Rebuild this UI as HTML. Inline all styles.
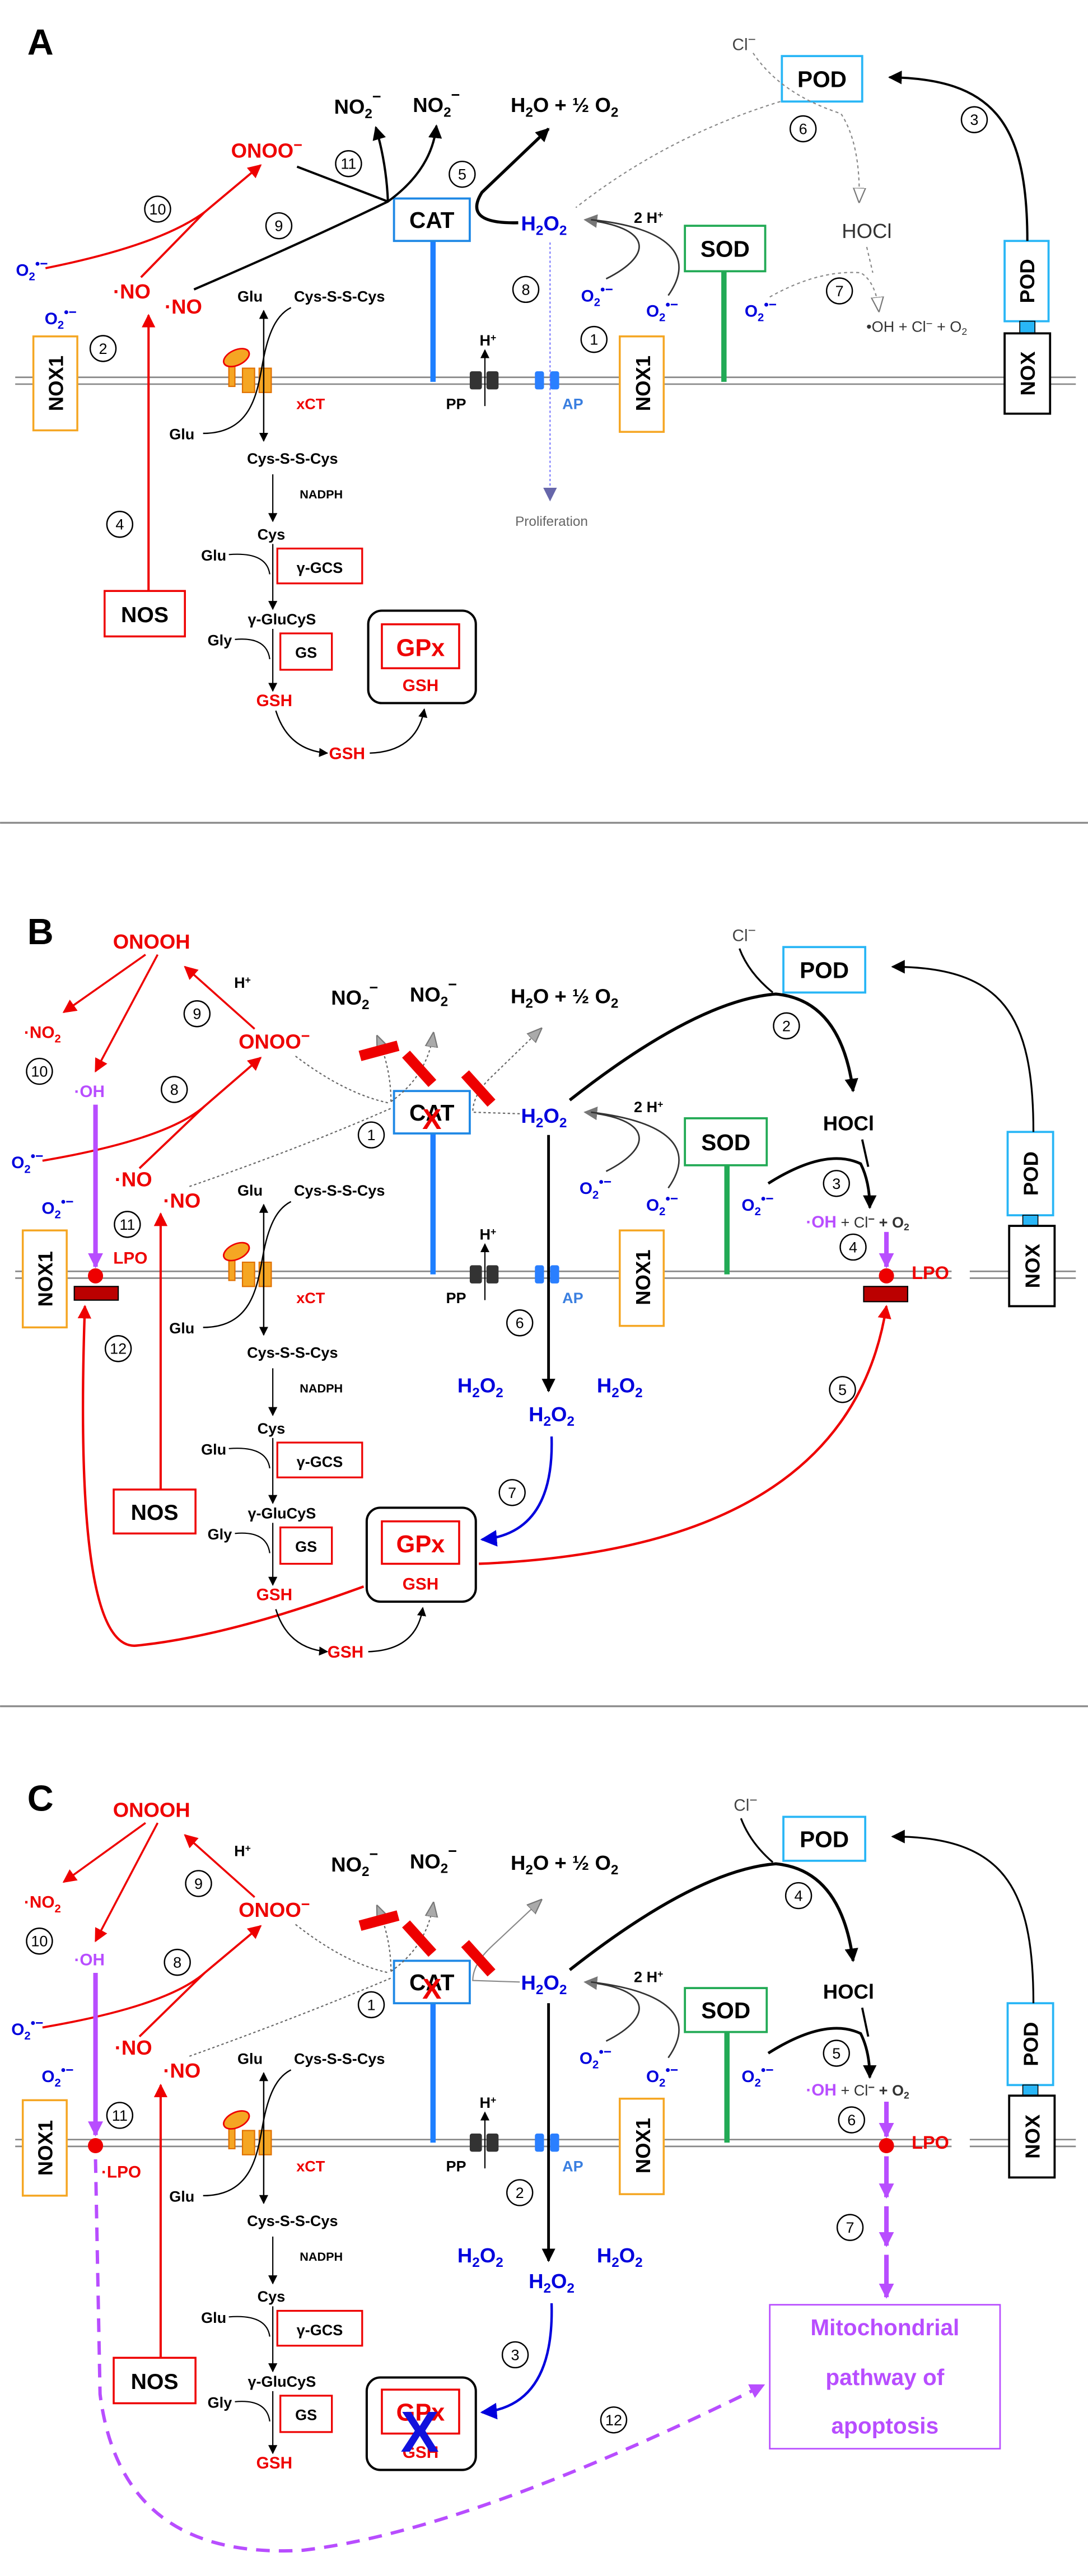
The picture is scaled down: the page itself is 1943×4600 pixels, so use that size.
<!DOCTYPE html>
<html><head><meta charset="utf-8"><style>
html,body{margin:0;padding:0;background:#fff}
svg{display:block}
text{font-family:"Liberation Sans",Arial,sans-serif;font-weight:bold}
.n{font-weight:normal}
</style></head><body>
<svg width="1943" height="4600" viewBox="0 0 718 1700" xmlns="http://www.w3.org/2000/svg">
<defs>
<marker id="ak" viewBox="0 0 10 10" refX="9" refY="5" markerWidth="9" markerHeight="9" markerUnits="userSpaceOnUse" orient="auto"><path d="M0,0 L10,5 L0,10 z" fill="#000"/></marker>
<marker id="aks" viewBox="0 0 10 10" refX="9" refY="5" markerWidth="6" markerHeight="6" markerUnits="userSpaceOnUse" orient="auto"><path d="M0,0 L10,5 L0,10 z" fill="#000"/></marker>
<marker id="aks2" viewBox="0 0 10 10" refX="1" refY="5" markerWidth="6" markerHeight="6" markerUnits="userSpaceOnUse" orient="auto"><path d="M10,0 L0,5 L10,10 z" fill="#000"/></marker>
<marker id="ar" viewBox="0 0 10 10" refX="9" refY="5" markerWidth="9" markerHeight="9" markerUnits="userSpaceOnUse" orient="auto"><path d="M0,0 L10,5 L0,10 z" fill="#e00"/></marker>
<marker id="ab" viewBox="0 0 10 10" refX="9" refY="5" markerWidth="11" markerHeight="11" markerUnits="userSpaceOnUse" orient="auto"><path d="M0,0 L10,5 L0,10 z" fill="#00d"/></marker>
<marker id="ap" viewBox="0 0 10 10" refX="9" refY="5" markerWidth="10" markerHeight="10" markerUnits="userSpaceOnUse" orient="auto"><path d="M0,0 L10,5 L0,10 z" fill="#b84dff"/></marker>
<marker id="ag" viewBox="0 0 10 10" refX="9" refY="5" markerWidth="10" markerHeight="10" markerUnits="userSpaceOnUse" orient="auto"><path d="M0,1 L10,5 L0,9 z" fill="#aaa" stroke="#777" stroke-width="0.8"/></marker>
<marker id="agd" viewBox="0 0 10 10" refX="9" refY="5" markerWidth="9" markerHeight="9" markerUnits="userSpaceOnUse" orient="auto"><path d="M0,0 L10,5 L0,10 z" fill="#777"/></marker>
<marker id="ago" viewBox="0 0 10 10" refX="9" refY="5" markerWidth="10" markerHeight="10" markerUnits="userSpaceOnUse" orient="auto"><path d="M0,1 L10,5 L0,9 z" fill="#fff" stroke="#777" stroke-width="0.8"/></marker>
<marker id="abl" viewBox="0 0 10 10" refX="9" refY="5" markerWidth="9" markerHeight="9" markerUnits="userSpaceOnUse" orient="auto"><path d="M0,0 L10,5 L0,10 z" fill="#66a"/></marker>

<g id="mem">
 <line x1="10" y1="-2" x2="710" y2="-2" stroke="#888" stroke-width="1"/>
 <line x1="10" y1="2.5" x2="710" y2="2.5" stroke="#888" stroke-width="1"/>
 <rect x="310" y="-6" width="8" height="12" rx="1.5" fill="#333"/>
 <rect x="321" y="-6" width="8" height="12" rx="1.5" fill="#333"/>
 <line x1="320" y1="17" x2="320" y2="-20" stroke="#000" stroke-width="0.8" marker-end="url(#aks)"/>
 <text x="322" y="-23" font-size="10" text-anchor="middle">H<tspan font-size="6.5" dy="-3">+</tspan></text>
 <text x="301" y="19" font-size="10" text-anchor="middle">PP</text>
 <rect x="353" y="-6" width="6" height="12" rx="1.5" fill="#2a7fff"/>
 <rect x="363" y="-6" width="6" height="12" rx="1.5" fill="#2a7fff"/>
 <text x="378" y="19" font-size="10" text-anchor="middle" fill="#3a7fe0">AP</text>
 <rect x="160" y="-8" width="8" height="16" fill="#f5a623" stroke="#e07000" stroke-width="0.8"/>
 <rect x="171" y="-8" width="8" height="16" fill="#f5a623" stroke="#e07000" stroke-width="0.8"/>
 <rect x="151" y="-10" width="4" height="14" fill="#f5a623" stroke="#e07000" stroke-width="0.8"/>
 <ellipse cx="156" cy="-15" rx="9" ry="5" transform="rotate(-25 156 -15)" fill="#f5a623" stroke="#e00" stroke-width="1"/>
 <text x="205" y="19" font-size="10" text-anchor="middle" fill="#e00">xCT</text>
 <rect x="409" y="-29" width="29" height="63" fill="#fff" stroke="#f5a623" stroke-width="1.3"/>
 <text transform="translate(424,2) rotate(-90)" font-size="13.5" text-anchor="middle" dy="5">NOX1</text>
</g>

<g id="chain">
 <text x="165" y="-52" font-size="10" text-anchor="middle">Glu</text>
 <text x="224" y="-52" font-size="10" text-anchor="middle">Cys-S-S-Cys</text>
 <line x1="174" y1="40" x2="174" y2="-46" stroke="#000" stroke-width="0.9" marker-end="url(#aks)" marker-start="url(#aks2)"/>
 <path d="M134,35 C168,35 170,5 174,-15 S184,-44 192,-48" fill="none" stroke="#000" stroke-width="0.9"/>
 <text x="120" y="39" font-size="10" text-anchor="middle">Glu</text>
 <text x="193" y="55" font-size="10" text-anchor="middle">Cys-S-S-Cys</text>
 <text x="212" y="78" font-size="8" text-anchor="middle">NADPH</text>
 <line x1="180" y1="62" x2="180" y2="93" stroke="#000" stroke-width="0.8" marker-end="url(#aks)"/>
 <text x="179" y="105" font-size="10" text-anchor="middle">Cys</text>
 <text x="141" y="119" font-size="10" text-anchor="middle">Glu</text>
 <path d="M151,115 Q176,113 178,128" fill="none" stroke="#000" stroke-width="0.8"/>
 <line x1="180" y1="108" x2="180" y2="151" stroke="#000" stroke-width="0.8" marker-end="url(#aks)"/>
 <rect x="183" y="111" width="56" height="23" fill="#fff" stroke="#e00" stroke-width="1.2"/>
 <text x="211" y="127" font-size="10" text-anchor="middle">γ-GCS</text>
 <text x="186" y="161" font-size="10" text-anchor="middle">γ-GluCyS</text>
 <text x="145" y="175" font-size="10" text-anchor="middle">Gly</text>
 <path d="M155,171 Q176,169 178,184" fill="none" stroke="#000" stroke-width="0.8"/>
 <line x1="180" y1="164" x2="180" y2="205" stroke="#000" stroke-width="0.8" marker-end="url(#aks)"/>
 <rect x="185" y="167" width="34" height="24" fill="#fff" stroke="#e00" stroke-width="1.2"/>
 <text x="202" y="183" font-size="10" text-anchor="middle">GS</text>
 <text x="181" y="215" font-size="11" text-anchor="middle" fill="#e00">GSH</text>
</g>
</defs>

<!-- ================= PANEL A ================= -->
<text x="18" y="36" font-size="24">A</text>
<use href="#mem" transform="translate(0,251)"/>
<use href="#chain" transform="translate(0,251)"/>
<rect x="22" y="222" width="29" height="62" fill="#fff" stroke="#f5a623" stroke-width="1.3"/>
<text transform="translate(36.5,253) rotate(-90)" font-size="13.5" text-anchor="middle" dy="5">NOX1</text>
<rect x="284" y="159" width="3.5" height="93" fill="#1e7fff"/>
<rect x="260" y="131" width="50" height="28" fill="#fff" stroke="#1e88e5" stroke-width="1.4"/>
<text x="285" y="150.5" font-size="15" text-anchor="middle">CAT</text>
<rect x="476" y="179" width="3.5" height="73" fill="#22aa55"/>
<rect x="452" y="149" width="53" height="30" fill="#fff" stroke="#22aa55" stroke-width="1.4"/>
<text x="478.5" y="169.5" font-size="15" text-anchor="middle">SOD</text>
<rect x="516" y="37" width="53" height="30" fill="#fff" stroke="#29b6f6" stroke-width="1.4"/>
<text x="542.5" y="57.5" font-size="15" text-anchor="middle">POD</text>
<rect x="663" y="159" width="29" height="53" fill="#fff" stroke="#29b6f6" stroke-width="1.4"/>
<text transform="translate(677.5,185.5) rotate(-90)" font-size="13.5" text-anchor="middle" dy="5">POD</text>
<rect x="673" y="212" width="10" height="8" fill="#29b6f6" stroke="#000" stroke-width="0.6"/>
<rect x="663" y="220" width="30" height="53" fill="#fff" stroke="#000" stroke-width="1.4"/>
<text transform="translate(678,246.5) rotate(-90)" font-size="13.5" text-anchor="middle" dy="5">NOX</text>
<path d="M678,159 C678,80 655,52 587,51" fill="none" stroke="#000" stroke-width="1.5" marker-end="url(#ak)"/>
<text x="236" y="75" font-size="13.5" text-anchor="middle">NO<tspan font-size="9" dy="3">2</tspan><tspan font-size="10" dy="-11">−</tspan></text>
<text x="288" y="74" font-size="13.5" text-anchor="middle">NO<tspan font-size="9" dy="3">2</tspan><tspan font-size="10" dy="-11">−</tspan></text>
<text x="337" y="74" font-size="13.5">H<tspan font-size="9" dy="3">2</tspan><tspan dy="-3">O + ½  O</tspan><tspan font-size="9" dy="3">2</tspan></text>
<text x="176" y="104" font-size="13.5" text-anchor="middle" fill="#e00">ONOO<tspan font-size="10" dy="-5">−</tspan></text>
<text x="359" y="152" font-size="13.5" text-anchor="middle" fill="#00d">H<tspan font-size="9" dy="3">2</tspan><tspan dy="-3">O</tspan><tspan font-size="9" dy="3">2</tspan></text>
<text x="428" y="147" font-size="10" text-anchor="middle">2 H<tspan font-size="6.5" dy="-3">+</tspan></text>
<text x="491" y="33" font-size="11" class="n" text-anchor="middle" fill="#444">Cl<tspan font-size="9" dy="-4">−</tspan></text>
<text x="572" y="157" font-size="13.5" class="n" text-anchor="middle" fill="#333">HOCl</text>
<text x="605" y="219" font-size="10" class="n" text-anchor="middle" fill="#333">•OH + Cl<tspan font-size="7.5" dy="-3">−</tspan><tspan dy="3"> + O</tspan><tspan font-size="6.5" dy="2">2</tspan></text>
<text x="87" y="197" font-size="13.5" text-anchor="middle" fill="#e00">·NO</text>
<text x="121" y="207" font-size="13.5" text-anchor="middle" fill="#e00">·NO</text>
<text x="21" y="182" font-size="11" text-anchor="middle" fill="#00d">O<tspan font-size="7.5" dy="3">2</tspan><tspan font-size="9" dy="-8">•−</tspan></text>
<text x="40" y="214" font-size="11" text-anchor="middle" fill="#00d">O<tspan font-size="7.5" dy="3">2</tspan><tspan font-size="9" dy="-8">•−</tspan></text>
<text x="394" y="199" font-size="11" text-anchor="middle" fill="#00d">O<tspan font-size="7.5" dy="3">2</tspan><tspan font-size="9" dy="-8">•−</tspan></text>
<text x="437" y="209" font-size="11" text-anchor="middle" fill="#00d">O<tspan font-size="7.5" dy="3">2</tspan><tspan font-size="9" dy="-8">•−</tspan></text>
<text x="502" y="209" font-size="11" text-anchor="middle" fill="#00d">O<tspan font-size="7.5" dy="3">2</tspan><tspan font-size="9" dy="-8">•−</tspan></text>
<path d="M30,177 Q105,162 135,140 L172,109" fill="none" stroke="#e00" stroke-width="1.4" marker-end="url(#ar)"/>
<line x1="93" y1="183" x2="135" y2="140" stroke="#e00" stroke-width="1.4"/>
<path d="M196,110 Q235,125 256,133" fill="none" stroke="#000" stroke-width="1.5"/>
<path d="M256,133 Q255,108 248,84" fill="none" stroke="#000" stroke-width="1.5" marker-end="url(#ak)"/>
<path d="M128,191 Q200,160 256,133 Q285,112 288,83" fill="none" stroke="#000" stroke-width="1.5" marker-end="url(#ak)"/>
<path d="M342,147 Q305,148 318,127 L362,85" fill="none" stroke="#000" stroke-width="2" marker-end="url(#ak)"/>
<path d="M400,184 C432,168 430,150 386,145" fill="none" stroke="#333" stroke-width="1" marker-end="url(#agd)"/>
<path d="M441,195 C460,168 440,150 390,145" fill="none" stroke="#333" stroke-width="1"/>
<path d="M515,67 Q440,90 380,137" fill="none" stroke="#888" stroke-width="0.8" stroke-dasharray="2,2"/>
<path d="M497,35 Q515,62 555,75 Q568,95 567,133" fill="none" stroke="#888" stroke-width="0.8" stroke-dasharray="2,2" marker-end="url(#ago)"/>
<path d="M508,196 Q540,178 568,180 Q578,186 580,205" fill="none" stroke="#888" stroke-width="0.8" stroke-dasharray="2,2" marker-end="url(#ago)"/>
<path d="M572,163 L576,180" fill="none" stroke="#888" stroke-width="0.8" stroke-dasharray="2,2"/>
<line x1="363" y1="160" x2="363" y2="330" stroke="#66f" stroke-width="0.7" stroke-dasharray="1.5,1.5" marker-end="url(#abl)"/>
<text x="364" y="347" font-size="9" class="n" text-anchor="middle" fill="#666">Proliferation</text>
<line x1="98" y1="390" x2="98" y2="208" stroke="#e00" stroke-width="1.5" marker-end="url(#ar)"/>
<rect x="69" y="390" width="53" height="30" fill="#fff" stroke="#e00" stroke-width="1.3"/>
<text x="95.5" y="410.5" font-size="14.5" text-anchor="middle">NOS</text>
<rect x="243" y="403" width="71" height="61" rx="9" fill="#fff" stroke="#000" stroke-width="1.5"/>
<rect x="252" y="412" width="51" height="29" fill="#fff" stroke="#e00" stroke-width="1.3"/>
<text x="277.5" y="433" font-size="16" text-anchor="middle" fill="#e00">GPx</text>
<text x="277.5" y="456" font-size="11" text-anchor="middle" fill="#e00">GSH</text>
<path d="M182,469 Q190,495 216,497" fill="none" stroke="#000" stroke-width="0.9" marker-end="url(#aks)"/>
<text x="229" y="501" font-size="11" text-anchor="middle" fill="#e00">GSH</text>
<path d="M244,497 Q275,496 280,468" fill="none" stroke="#000" stroke-width="0.9" marker-end="url(#aks)"/>
<g fill="none" stroke="#000" stroke-width="0.9">
<circle cx="68" cy="230" r="8.5"/><circle cx="104" cy="138" r="8.5"/><circle cx="184" cy="149" r="8.5"/><circle cx="230" cy="108" r="8.5"/><circle cx="305" cy="115" r="8.5"/><circle cx="530" cy="85" r="8.5"/><circle cx="643" cy="79" r="8.5"/><circle cx="347" cy="191" r="8.5"/><circle cx="392" cy="224" r="8.5"/><circle cx="554" cy="192" r="8.5"/><circle cx="79" cy="346" r="8.5"/>
</g>
<g font-size="10" text-anchor="middle">
<text x="68" y="233.5" class="n">2</text><text x="104" y="141.5" class="n">10</text><text x="184" y="152.5" class="n">9</text><text x="230" y="111.5" class="n">11</text><text x="305" y="118.5" class="n">5</text><text x="530" y="88.5" class="n">6</text><text x="643" y="82.5" class="n">3</text><text x="347" y="194.5" class="n">8</text><text x="392" y="227.5" class="n">1</text><text x="554" y="195.5" class="n">7</text><text x="79" y="349.5" class="n">4</text>
</g>

<line x1="0" y1="543" x2="718" y2="543" stroke="#888" stroke-width="1.2"/>

<!-- ================= PANEL B ================= -->
<text x="18" y="623" font-size="24">B</text>
<use href="#mem" transform="translate(0,841)"/>
<use href="#chain" transform="translate(0,841)"/>
<rect x="628" y="836" width="12" height="10" fill="#fff"/>
<rect x="15" y="812" width="29" height="64" fill="#fff" stroke="#f5a623" stroke-width="1.3"/>
<text transform="translate(29.5,844) rotate(-90)" font-size="13.5" text-anchor="middle" dy="5">NOX1</text>
<rect x="284" y="748" width="3.5" height="93" fill="#1e7fff"/>
<rect x="260" y="720" width="50" height="28" fill="#fff" stroke="#1e88e5" stroke-width="1.4"/>
<text x="285" y="739.5" font-size="15" text-anchor="middle">CAT</text>
<text x="285" y="745" font-size="19" text-anchor="middle" fill="#e00">X</text>
<rect x="478" y="769" width="3.5" height="72" fill="#22aa55"/>
<rect x="452" y="738" width="54" height="31" fill="#fff" stroke="#22aa55" stroke-width="1.4"/>
<text x="479" y="759" font-size="15" text-anchor="middle">SOD</text>
<rect x="517" y="625" width="54" height="30" fill="#fff" stroke="#29b6f6" stroke-width="1.4"/>
<text x="544" y="645.5" font-size="15" text-anchor="middle">POD</text>
<rect x="665" y="747" width="30" height="55" fill="#fff" stroke="#29b6f6" stroke-width="1.4"/>
<text transform="translate(680,774.5) rotate(-90)" font-size="13.5" text-anchor="middle" dy="5">POD</text>
<rect x="675" y="802" width="10" height="7" fill="#29b6f6" stroke="#000" stroke-width="0.6"/>
<rect x="666" y="809" width="30" height="53" fill="#fff" stroke="#000" stroke-width="1.4"/>
<text transform="translate(681,835.5) rotate(-90)" font-size="13.5" text-anchor="middle" dy="5">NOX</text>
<path d="M682,747 C682,670 662,638 589,638" fill="none" stroke="#000" stroke-width="1.2" marker-end="url(#ak)"/>
<text x="100" y="626" font-size="13.5" text-anchor="middle" fill="#e00">ONOOH</text>
<text x="28" y="685" font-size="11" text-anchor="middle" fill="#e00">·NO<tspan font-size="7.5" dy="3">2</tspan></text>
<text x="59" y="724" font-size="11" text-anchor="middle" fill="#b84dff">·OH</text>
<text x="160" y="652" font-size="10" text-anchor="middle">H<tspan font-size="6.5" dy="-3">+</tspan></text>
<text x="181" y="692" font-size="13.5" text-anchor="middle" fill="#e00">ONOO<tspan font-size="10" dy="-5">−</tspan></text>
<text x="18" y="771" font-size="11" text-anchor="middle" fill="#00d">O<tspan font-size="7.5" dy="3">2</tspan><tspan font-size="9" dy="-8">•−</tspan></text>
<text x="38" y="801" font-size="11" text-anchor="middle" fill="#00d">O<tspan font-size="7.5" dy="3">2</tspan><tspan font-size="9" dy="-8">•−</tspan></text>
<text x="88" y="783" font-size="13.5" text-anchor="middle" fill="#e00">·NO</text>
<text x="120" y="797" font-size="13.5" text-anchor="middle" fill="#e00">·NO</text>
<text x="86" y="834" font-size="11" text-anchor="middle" fill="#e00">LPO</text>
<text x="234" y="663" font-size="13.5" text-anchor="middle">NO<tspan font-size="9" dy="3">2</tspan><tspan font-size="10" dy="-11">−</tspan></text>
<text x="286" y="661" font-size="13.5" text-anchor="middle">NO<tspan font-size="9" dy="3">2</tspan><tspan font-size="10" dy="-11">−</tspan></text>
<text x="337" y="662" font-size="13.5">H<tspan font-size="9" dy="3">2</tspan><tspan dy="-3">O + ½  O</tspan><tspan font-size="9" dy="3">2</tspan></text>
<text x="359" y="741" font-size="13.5" text-anchor="middle" fill="#00d">H<tspan font-size="9" dy="3">2</tspan><tspan dy="-3">O</tspan><tspan font-size="9" dy="3">2</tspan></text>
<text x="428" y="734" font-size="10" text-anchor="middle">2 H<tspan font-size="6.5" dy="-3">+</tspan></text>
<text x="393" y="788" font-size="11" text-anchor="middle" fill="#00d">O<tspan font-size="7.5" dy="3">2</tspan><tspan font-size="9" dy="-8">•−</tspan></text>
<text x="437" y="799" font-size="11" text-anchor="middle" fill="#00d">O<tspan font-size="7.5" dy="3">2</tspan><tspan font-size="9" dy="-8">•−</tspan></text>
<text x="500" y="799" font-size="11" text-anchor="middle" fill="#00d">O<tspan font-size="7.5" dy="3">2</tspan><tspan font-size="9" dy="-8">•−</tspan></text>
<text x="491" y="621" font-size="11" class="n" text-anchor="middle" fill="#444">Cl<tspan font-size="9" dy="-4">−</tspan></text>
<text x="560" y="746" font-size="13.5" text-anchor="middle">HOCl</text>
<text x="566" y="810" font-size="11" text-anchor="middle" fill="#b84dff">·OH<tspan fill="#333" class="n" font-size="10"> + Cl</tspan><tspan fill="#333" font-size="7.5" dy="-3">−</tspan><tspan fill="#333" font-size="10" dy="3"> + O</tspan><tspan fill="#333" font-size="6.5" dy="2">2</tspan></text>
<text x="614" y="844" font-size="12" text-anchor="middle" fill="#e00">LPO</text>
<text x="317" y="919" font-size="13.5" text-anchor="middle" fill="#00d">H<tspan font-size="9" dy="3">2</tspan><tspan dy="-3">O</tspan><tspan font-size="9" dy="3">2</tspan></text>
<text x="409" y="919" font-size="13.5" text-anchor="middle" fill="#00d">H<tspan font-size="9" dy="3">2</tspan><tspan dy="-3">O</tspan><tspan font-size="9" dy="3">2</tspan></text>
<text x="364" y="938" font-size="13.5" text-anchor="middle" fill="#00d">H<tspan font-size="9" dy="3">2</tspan><tspan dy="-3">O</tspan><tspan font-size="9" dy="3">2</tspan></text>
<line x1="96" y1="630" x2="42" y2="668" stroke="#e00" stroke-width="1.3" marker-end="url(#ar)"/>
<line x1="104" y1="630" x2="63" y2="707" stroke="#e00" stroke-width="1.3" marker-end="url(#ar)"/>
<line x1="168" y1="679" x2="122" y2="638" stroke="#e00" stroke-width="1.3" marker-end="url(#ar)"/>
<path d="M28,766 Q110,752 135,730 L172,698" fill="none" stroke="#e00" stroke-width="1.4" marker-end="url(#ar)"/>
<line x1="92" y1="771" x2="135" y2="730" stroke="#e00" stroke-width="1.4"/>
<line x1="63" y1="729" x2="63" y2="836" stroke="#b84dff" stroke-width="3" marker-end="url(#ap)"/>
<circle cx="63" cy="842" r="5" fill="#e00"/>
<rect x="49" y="849" width="29" height="9" fill="#b00" stroke="#000" stroke-width="0.8"/>
<g fill="none" stroke="#666" stroke-width="0.8" stroke-dasharray="1.6,1.6">
<path d="M125,783 Q200,757 259,731"/>
<path d="M195,697 Q228,722 257,728"/>
<path d="M258,727 Q258,705 249,684" marker-end="url(#ag)"/>
<path d="M258,727 Q282,710 286,682" marker-end="url(#ag)"/>
<path d="M343,735 L312,734 Q312,722 325,710 L357,679" marker-end="url(#ag)"/>
</g>
<rect x="237" y="690" width="26" height="7" fill="#e00" transform="rotate(-15 250 693)"/>
<rect x="264" y="702" width="26" height="7" fill="#e00" transform="rotate(48 277 705)"/>
<rect x="303" y="715" width="26" height="7" fill="#e00" transform="rotate(48 316 718)"/>
<path d="M376,726 Q460,660 512,656 Q555,660 563,720" fill="none" stroke="#000" stroke-width="2" marker-end="url(#ak)"/>
<path d="M488,626 Q494,642 510,655" fill="none" stroke="#000" stroke-width="1.2"/>
<path d="M400,773 C432,757 430,738 386,734" fill="none" stroke="#333" stroke-width="1" marker-end="url(#agd)"/>
<path d="M441,784 C460,757 440,740 390,734" fill="none" stroke="#333" stroke-width="1"/>
<path d="M507,781 Q545,757 568,768 Q574,780 574,797" fill="none" stroke="#000" stroke-width="1.8" marker-end="url(#ak)"/>
<path d="M569,752 L573,770" fill="none" stroke="#000" stroke-width="1.4"/>
<line x1="585" y1="813" x2="585" y2="836" stroke="#b84dff" stroke-width="3" marker-end="url(#ap)"/>
<circle cx="585" cy="842" r="5" fill="#e00"/>
<rect x="570" y="849" width="29" height="10" fill="#b00" stroke="#000" stroke-width="0.8"/>
<line x1="362" y1="749" x2="362" y2="918" stroke="#000" stroke-width="1.8" marker-end="url(#ak)"/>
<path d="M364,948 Q366,1012 318,1016" fill="none" stroke="#00d" stroke-width="1.6" marker-end="url(#ab)"/>
<path d="M316,1032 Q560,1022 585,862" fill="none" stroke="#e00" stroke-width="1.6" marker-end="url(#ar)"/>
<path d="M240,1047 Q150,1080 90,1086 Q48,1090 56,862" fill="none" stroke="#e00" stroke-width="1.6" marker-end="url(#ar)"/>
<line x1="106" y1="983" x2="106" y2="801" stroke="#e00" stroke-width="1.5" marker-end="url(#ar)"/>
<rect x="75" y="983" width="54" height="29" fill="#fff" stroke="#e00" stroke-width="1.3"/>
<text x="102" y="1003" font-size="14.5" text-anchor="middle">NOS</text>
<rect x="242" y="995" width="72" height="62" rx="9" fill="#fff" stroke="#000" stroke-width="1.5"/>
<rect x="252" y="1004" width="51" height="28" fill="#fff" stroke="#e00" stroke-width="1.3"/>
<text x="277.5" y="1024.5" font-size="16" text-anchor="middle" fill="#e00">GPx</text>
<text x="277.5" y="1049" font-size="11" text-anchor="middle" fill="#e00">GSH</text>
<path d="M182,1062 Q190,1088 216,1090" fill="none" stroke="#000" stroke-width="0.9" marker-end="url(#aks)"/>
<text x="228" y="1094" font-size="11" text-anchor="middle" fill="#e00">GSH</text>
<path d="M243,1090 Q275,1089 279,1061" fill="none" stroke="#000" stroke-width="0.9" marker-end="url(#aks)"/>
<g fill="none" stroke="#000" stroke-width="0.9">
<circle cx="26" cy="707" r="8.5"/><circle cx="130" cy="669" r="8.5"/><circle cx="115" cy="719" r="8.5"/><circle cx="84" cy="808" r="8.5"/><circle cx="78" cy="890" r="8.5"/><circle cx="245" cy="749" r="8.5"/><circle cx="519" cy="677" r="8.5"/><circle cx="552" cy="781" r="8.5"/><circle cx="563" cy="823" r="8.5"/><circle cx="556" cy="917" r="8.5"/><circle cx="343" cy="873" r="8.5"/><circle cx="338" cy="985" r="8.5"/>
</g>
<g font-size="10" text-anchor="middle">
<text x="26" y="710.5" class="n">10</text><text x="130" y="672.5" class="n">9</text><text x="115" y="722.5" class="n">8</text><text x="84" y="811.5" class="n">11</text><text x="78" y="893.5" class="n">12</text><text x="245" y="752.5" class="n">1</text><text x="519" y="680.5" class="n">2</text><text x="552" y="784.5" class="n">3</text><text x="563" y="826.5" class="n">4</text><text x="556" y="920.5" class="n">5</text><text x="343" y="876.5" class="n">6</text><text x="338" y="988.5" class="n">7</text>
</g>

<line x1="0" y1="1126" x2="718" y2="1126" stroke="#888" stroke-width="1.2"/>

<!-- ================= PANEL C ================= -->
<text x="18" y="1195" font-size="24">C</text>
<use href="#mem" transform="translate(0,1414)"/>
<use href="#chain" transform="translate(0,1414)"/>
<rect x="628" y="1409" width="12" height="10" fill="#fff"/>
<rect x="15" y="1386" width="29" height="63" fill="#fff" stroke="#f5a623" stroke-width="1.3"/>
<text transform="translate(29.5,1417.5) rotate(-90)" font-size="13.5" text-anchor="middle" dy="5">NOX1</text>
<rect x="284" y="1322" width="3.5" height="92" fill="#1e7fff"/>
<rect x="260" y="1294" width="50" height="28" fill="#fff" stroke="#1e88e5" stroke-width="1.4"/>
<text x="285" y="1313.5" font-size="15" text-anchor="middle">CAT</text>
<text x="285" y="1319" font-size="19" text-anchor="middle" fill="#e00">X</text>
<rect x="478" y="1341" width="3.5" height="73" fill="#22aa55"/>
<rect x="452" y="1312" width="54" height="29" fill="#fff" stroke="#22aa55" stroke-width="1.4"/>
<text x="479" y="1332" font-size="15" text-anchor="middle">SOD</text>
<rect x="517" y="1199" width="54" height="29" fill="#fff" stroke="#29b6f6" stroke-width="1.4"/>
<text x="544" y="1219" font-size="15" text-anchor="middle">POD</text>
<rect x="665" y="1322" width="30" height="54" fill="#fff" stroke="#29b6f6" stroke-width="1.4"/>
<text transform="translate(680,1349) rotate(-90)" font-size="13.5" text-anchor="middle" dy="5">POD</text>
<rect x="675" y="1376" width="10" height="7" fill="#29b6f6" stroke="#000" stroke-width="0.6"/>
<rect x="666" y="1383" width="30" height="54" fill="#fff" stroke="#000" stroke-width="1.4"/>
<text transform="translate(681,1410) rotate(-90)" font-size="13.5" text-anchor="middle" dy="5">NOX</text>
<path d="M682,1322 C682,1245 662,1212 589,1212" fill="none" stroke="#000" stroke-width="1.2" marker-end="url(#ak)"/>
<text x="100" y="1199" font-size="13.5" text-anchor="middle" fill="#e00">ONOOH</text>
<text x="28" y="1259" font-size="11" text-anchor="middle" fill="#e00">·NO<tspan font-size="7.5" dy="3">2</tspan></text>
<text x="59" y="1297" font-size="11" text-anchor="middle" fill="#b84dff">·OH</text>
<text x="160" y="1225" font-size="10" text-anchor="middle">H<tspan font-size="6.5" dy="-3">+</tspan></text>
<text x="181" y="1265" font-size="13.5" text-anchor="middle" fill="#e00">ONOO<tspan font-size="10" dy="-5">−</tspan></text>
<text x="18" y="1343" font-size="11" text-anchor="middle" fill="#00d">O<tspan font-size="7.5" dy="3">2</tspan><tspan font-size="9" dy="-8">•−</tspan></text>
<text x="38" y="1374" font-size="11" text-anchor="middle" fill="#00d">O<tspan font-size="7.5" dy="3">2</tspan><tspan font-size="9" dy="-8">•−</tspan></text>
<text x="88" y="1356" font-size="13.5" text-anchor="middle" fill="#e00">·NO</text>
<text x="120" y="1371" font-size="13.5" text-anchor="middle" fill="#e00">·NO</text>
<text x="80" y="1437" font-size="11" text-anchor="middle" fill="#e00">·LPO</text>
<text x="234" y="1235" font-size="13.5" text-anchor="middle">NO<tspan font-size="9" dy="3">2</tspan><tspan font-size="10" dy="-11">−</tspan></text>
<text x="286" y="1233" font-size="13.5" text-anchor="middle">NO<tspan font-size="9" dy="3">2</tspan><tspan font-size="10" dy="-11">−</tspan></text>
<text x="337" y="1234" font-size="13.5">H<tspan font-size="9" dy="3">2</tspan><tspan dy="-3">O + ½  O</tspan><tspan font-size="9" dy="3">2</tspan></text>
<text x="359" y="1313" font-size="13.5" text-anchor="middle" fill="#00d">H<tspan font-size="9" dy="3">2</tspan><tspan dy="-3">O</tspan><tspan font-size="9" dy="3">2</tspan></text>
<text x="428" y="1308" font-size="10" text-anchor="middle">2 H<tspan font-size="6.5" dy="-3">+</tspan></text>
<text x="393" y="1362" font-size="11" text-anchor="middle" fill="#00d">O<tspan font-size="7.5" dy="3">2</tspan><tspan font-size="9" dy="-8">•−</tspan></text>
<text x="437" y="1374" font-size="11" text-anchor="middle" fill="#00d">O<tspan font-size="7.5" dy="3">2</tspan><tspan font-size="9" dy="-8">•−</tspan></text>
<text x="500" y="1374" font-size="11" text-anchor="middle" fill="#00d">O<tspan font-size="7.5" dy="3">2</tspan><tspan font-size="9" dy="-8">•−</tspan></text>
<text x="492" y="1195" font-size="11" class="n" text-anchor="middle" fill="#444">Cl<tspan font-size="9" dy="-4">−</tspan></text>
<text x="560" y="1319" font-size="13.5" text-anchor="middle">HOCl</text>
<text x="566" y="1383" font-size="11" text-anchor="middle" fill="#b84dff">·OH<tspan fill="#333" class="n" font-size="10"> + Cl</tspan><tspan fill="#333" font-size="7.5" dy="-3">−</tspan><tspan fill="#333" font-size="10" dy="3"> + O</tspan><tspan fill="#333" font-size="6.5" dy="2">2</tspan></text>
<text x="614" y="1418" font-size="12" text-anchor="middle" fill="#e00">LPO</text>
<text x="317" y="1493" font-size="13.5" text-anchor="middle" fill="#00d">H<tspan font-size="9" dy="3">2</tspan><tspan dy="-3">O</tspan><tspan font-size="9" dy="3">2</tspan></text>
<text x="409" y="1493" font-size="13.5" text-anchor="middle" fill="#00d">H<tspan font-size="9" dy="3">2</tspan><tspan dy="-3">O</tspan><tspan font-size="9" dy="3">2</tspan></text>
<text x="364" y="1510" font-size="13.5" text-anchor="middle" fill="#00d">H<tspan font-size="9" dy="3">2</tspan><tspan dy="-3">O</tspan><tspan font-size="9" dy="3">2</tspan></text>
<line x1="96" y1="1203" x2="42" y2="1242" stroke="#e00" stroke-width="1.3" marker-end="url(#ar)"/>
<line x1="104" y1="1203" x2="63" y2="1281" stroke="#e00" stroke-width="1.3" marker-end="url(#ar)"/>
<line x1="168" y1="1252" x2="122" y2="1211" stroke="#e00" stroke-width="1.3" marker-end="url(#ar)"/>
<path d="M28,1338 Q110,1324 135,1302 L172,1271" fill="none" stroke="#e00" stroke-width="1.4" marker-end="url(#ar)"/>
<line x1="92" y1="1344" x2="135" y2="1302" stroke="#e00" stroke-width="1.4"/>
<line x1="63" y1="1302" x2="63" y2="1409" stroke="#b84dff" stroke-width="3" marker-end="url(#ap)"/>
<circle cx="63" cy="1416" r="5" fill="#e00"/>
<g fill="none" stroke="#666" stroke-width="0.8" stroke-dasharray="1.6,1.6">
<path d="M125,1357 Q200,1330 259,1305"/>
<path d="M195,1270 Q228,1296 257,1302"/>
<path d="M258,1301 Q258,1279 249,1258" marker-end="url(#ag)"/>
<path d="M258,1301 Q282,1284 286,1256" marker-end="url(#ag)"/>
</g>
<path d="M343,1308 L312,1307 Q312,1296 325,1284 L357,1254" fill="none" stroke="#888" stroke-width="0.8" marker-end="url(#ag)"/>
<rect x="237" y="1264" width="26" height="7" fill="#e00" transform="rotate(-15 250 1267)"/>
<rect x="264" y="1276" width="26" height="7" fill="#e00" transform="rotate(48 277 1279)"/>
<rect x="303" y="1289" width="26" height="7" fill="#e00" transform="rotate(48 316 1292)"/>
<path d="M376,1300 Q460,1234 512,1230 Q555,1234 563,1294" fill="none" stroke="#000" stroke-width="2" marker-end="url(#ak)"/>
<path d="M489,1200 Q495,1216 510,1229" fill="none" stroke="#000" stroke-width="1.2"/>
<path d="M400,1347 C432,1331 430,1312 386,1308" fill="none" stroke="#333" stroke-width="1" marker-end="url(#agd)"/>
<path d="M441,1358 C460,1331 440,1314 390,1308" fill="none" stroke="#333" stroke-width="1"/>
<path d="M507,1355 Q545,1331 568,1342 Q574,1354 574,1371" fill="none" stroke="#000" stroke-width="1.8" marker-end="url(#ak)"/>
<path d="M569,1325 L573,1344" fill="none" stroke="#000" stroke-width="1.4"/>
<line x1="585" y1="1387" x2="585" y2="1410" stroke="#b84dff" stroke-width="3" marker-end="url(#ap)"/>
<circle cx="585" cy="1416" r="5" fill="#e00"/>
<line x1="585" y1="1423" x2="585" y2="1450" stroke="#b84dff" stroke-width="3" marker-end="url(#ap)"/>
<line x1="585" y1="1456" x2="585" y2="1482" stroke="#b84dff" stroke-width="3" marker-end="url(#ap)"/>
<line x1="585" y1="1488" x2="585" y2="1516" stroke="#b84dff" stroke-width="3" marker-end="url(#ap)"/>
<rect x="508" y="1521" width="152" height="95" fill="#fff" stroke="#b84dff" stroke-width="1"/>
<text x="584" y="1541" font-size="15" text-anchor="middle" fill="#b84dff">Mitochondrial</text>
<text x="584" y="1574" font-size="15" text-anchor="middle" fill="#b84dff">pathway of</text>
<text x="584" y="1606" font-size="15" text-anchor="middle" fill="#b84dff">apoptosis</text>
<path d="M63,1425 L66,1580 Q80,1690 200,1683 Q310,1670 504,1574" fill="none" stroke="#b84dff" stroke-width="2.2" stroke-dasharray="9,6" marker-end="url(#ap)"/>
<line x1="362" y1="1322" x2="362" y2="1492" stroke="#000" stroke-width="1.8" marker-end="url(#ak)"/>
<path d="M364,1520 Q366,1588 318,1592" fill="none" stroke="#00d" stroke-width="1.6" marker-end="url(#ab)"/>
<line x1="106" y1="1556" x2="106" y2="1376" stroke="#e00" stroke-width="1.5" marker-end="url(#ar)"/>
<rect x="75" y="1556" width="54" height="30" fill="#fff" stroke="#e00" stroke-width="1.3"/>
<text x="102" y="1576.5" font-size="14.5" text-anchor="middle">NOS</text>
<rect x="242" y="1569" width="72" height="61" rx="9" fill="#fff" stroke="#000" stroke-width="1.5"/>
<rect x="252" y="1577" width="51" height="29" fill="#fff" stroke="#e00" stroke-width="1.3"/>
<text x="277.5" y="1597.5" font-size="16" text-anchor="middle" fill="#e00">GPx</text>
<text x="277.5" y="1622" font-size="11" text-anchor="middle" fill="#e00">GSH</text>
<text x="277" y="1618" font-size="38" text-anchor="middle" fill="#11d">X</text>
<g fill="none" stroke="#000" stroke-width="0.9">
<circle cx="26" cy="1281" r="8.5"/><circle cx="131" cy="1243" r="8.5"/><circle cx="117" cy="1295" r="8.5"/><circle cx="79" cy="1396" r="8.5"/><circle cx="245" cy="1323" r="8.5"/><circle cx="527" cy="1251" r="8.5"/><circle cx="552" cy="1355" r="8.5"/><circle cx="562" cy="1399" r="8.5"/><circle cx="561" cy="1470" r="8.5"/><circle cx="343" cy="1447" r="8.5"/><circle cx="340" cy="1554" r="8.5"/><circle cx="405" cy="1597" r="8.5"/>
</g>
<g font-size="10" text-anchor="middle">
<text x="26" y="1284.5" class="n">10</text><text x="131" y="1246.5" class="n">9</text><text x="117" y="1298.5" class="n">8</text><text x="79" y="1399.5" class="n">11</text><text x="245" y="1326.5" class="n">1</text><text x="527" y="1254.5" class="n">4</text><text x="552" y="1358.5" class="n">5</text><text x="562" y="1402.5" class="n">6</text><text x="561" y="1473.5" class="n">7</text><text x="343" y="1450.5" class="n">2</text><text x="340" y="1557.5" class="n">3</text><text x="405" y="1600.5" class="n">12</text>
</g>
</svg>
</body></html>
